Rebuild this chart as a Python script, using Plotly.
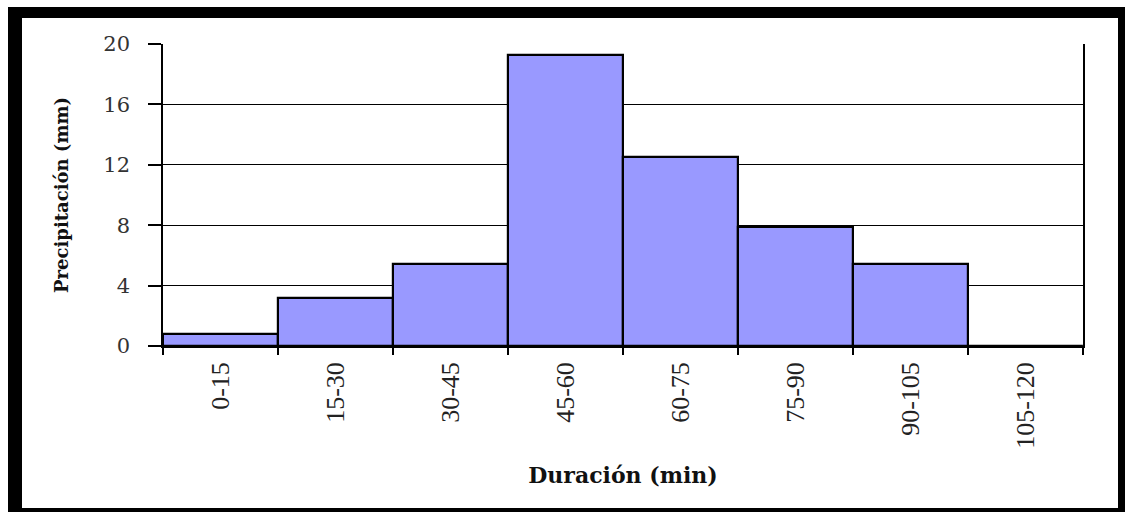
import plotly.graph_objects as go

# Precipitation per duration interval
intervalos = ["0-15", "15-30", "30-45", "45-60", "60-75", "75-90", "90-105", "105-120"]
precipitacion = [0.8, 3.2, 5.4, 19.3, 12.5, 7.9, 5.4, 0.0]
y_ticks = [0, 4, 8, 12, 16, 20]

W, H = 1125, 512
L, R, T, B = 163, 42, 44, 166
pw, ph = W - L - R, H - T - B


def px_x(x):
    return (x - L) / pw


def px_y(y):
    return (H - B - y) / ph


fig = go.Figure(
    go.Bar(
        x=intervalos,
        y=precipitacion,
        marker=dict(color="#9999FF", line=dict(color="black", width=2.2)),
        width=1.0,
    )
)

# Outer frame: heavy black border around the chart
fig.add_shape(type="rect", xref="paper", yref="paper",
              x0=px_x(8), x1=px_x(1125), y0=px_y(512), y1=px_y(7),
              fillcolor="black", line=dict(width=0), layer="below")
fig.add_shape(type="rect", xref="paper", yref="paper",
              x0=px_x(22), x1=px_x(1118), y0=px_y(508), y1=px_y(18),
              fillcolor="white", line=dict(width=0), layer="below")

fig.update_layout(
    width=W, height=H,
    margin=dict(l=L, r=R, t=T, b=B),
    paper_bgcolor="white",
    plot_bgcolor="rgba(0,0,0,0)",
    bargap=0,
    showlegend=False,
    xaxis=dict(
        type="category",
        tickangle=-90,
        tickson="boundaries",
        ticks="outside", ticklen=7, tickcolor="black", tickwidth=1.5,
        ticklabelstandoff=4,
        showline=True, linecolor="black", linewidth=1.5,
        showgrid=False,
        tickfont=dict(family="Liberation Serif, serif", size=26, color="#222"),
        title=dict(text="Duración (min)", standoff=20,
                   font=dict(family="DejaVu Serif, serif", size=22, color="#111", weight="bold")),
    ),
    yaxis=dict(
        range=[0, 20],
        tickvals=y_ticks,
        ticks="outside", ticklen=13, tickcolor="black", tickwidth=1.5,
        ticklabelstandoff=14,
        showline=True, mirror=True, linecolor="black", linewidth=1.5,
        showgrid=True, gridcolor="black", gridwidth=1.3,
        zeroline=False,
        tickfont=dict(family="DejaVu Serif, serif", size=21, color="#333"),
        title=dict(text="Precipitación (mm)", standoff=30,
                   font=dict(family="DejaVu Serif, serif", size=18, color="#111", weight="bold")),
    ),
)

fig.write_html("out.html")
